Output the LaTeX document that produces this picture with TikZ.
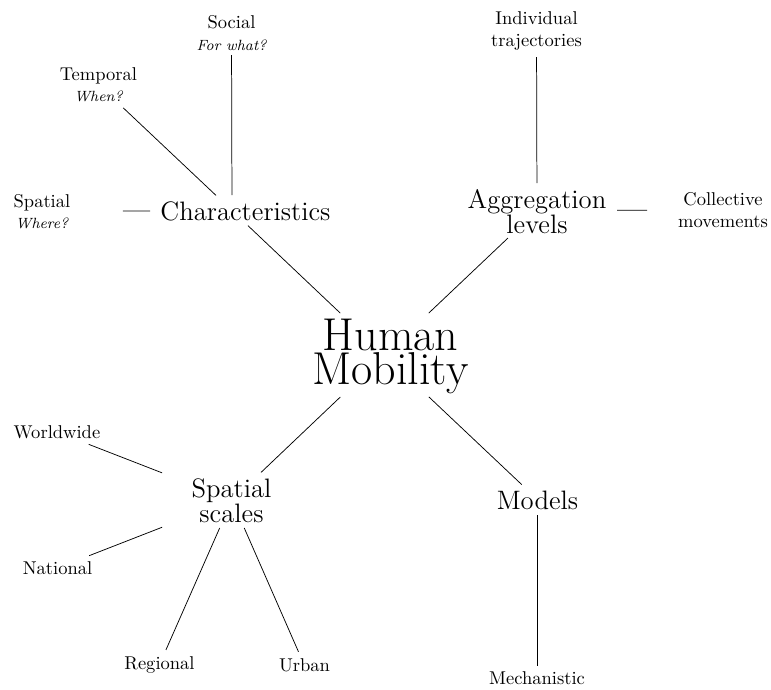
\documentclass[tikz,border=0pt]{standalone}
\usepackage{tikz}

\tikzset{
  % one drawing unit is 0.54pt, y grows downwards
  root/.style={align=center, inner sep=0pt,
    font={\Huge\setlength{\baselineskip}{18.6pt}\setlength{\lineskiplimit}{-100pt}}},
  branch/.style={align=center, inner sep=0pt,
    font={\Large\setlength{\baselineskip}{13.5pt}\setlength{\lineskiplimit}{-100pt}}},
  leaf/.style={align=center, inner sep=0pt,
    font={\normalsize\setlength{\baselineskip}{11.6pt}\setlength{\lineskiplimit}{-100pt}}},
  link/.style 2 args={line width=0.4pt, shorten <=#1*0.54pt, shorten >=#2*0.54pt},
}
\newcommand{\question}[1]{{\footnotesize\itshape #1}}

\begin{document}
\begin{tikzpicture}[x=0.54pt, y=-0.54pt]
  \useasboundingbox (0,0) rectangle (771,689);

  % branch points
  \coordinate (human-hub)  at (384.5,355);
  \coordinate (char-hub)   at (232,210.5);
  \coordinate (agg-hub)    at (537,210.5);
  \coordinate (scales-hub) at (232,500);
  \coordinate (models-hub) at (537,499);

  % central concept
  \node[root] (human) at (390.5,356.5) {Human\\Mobility};

  % main branches
  \node[branch] (char)   at (245.5,211.5) {Characteristics};
  \node[branch] (agg)    at (537,211.5)   {Aggregation\\levels};
  \node[branch] (scales) at (231.5,501)   {Spatial\\scales};
  \node[branch] (models) at (537.5,500.5) {Models};

  % characteristics
  \node[leaf] (social)   at (231.5,33)  {Social\\\question{For what?}};
  \node[leaf] (temporal) at (98.5,84.5) {Temporal\\\question{When?}};
  \node[leaf] (spatial)  at (42,211.5)  {Spatial\\\question{Where?}};

  % aggregation levels
  \node[leaf] (individual) at (536.5,31) {Individual\\trajectories};
  \node[leaf] (collective) at (723,210)  {Collective\\movements};

  % spatial scales
  \node[leaf] (worldwide) at (57,432)      {Worldwide};
  \node[leaf] (national)  at (57.5,568)    {National};
  \node[leaf] (regional)  at (159.5,664.5) {Regional};
  \node[leaf] (urban)     at (304.5,665.5) {Urban};

  % models
  \node[leaf] (mechanistic) at (537,678.5) {Mechanistic};

  % connectors from the centre
  \draw[link={61}{22}] (human-hub) -- (char-hub);
  \draw[link={61}{40}] (human-hub) -- (agg-hub);
  \draw[link={61}{40}] (human-hub) -- (scales-hub);
  \draw[link={61}{21}] (human-hub) -- (models-hub);

  % connectors of the branches
  \draw[link={15.5}{22}] (char-hub) -- (social.center);
  \draw[link={22}{34}]   (char-hub) -- (temporal.center);
  \draw[link={82}{81}]   (char-hub) -- (spatial.center);

  \draw[link={27.5}{26}] (agg-hub) -- (individual.center);
  \draw[link={80}{76}]   (agg-hub) -- (collective.center);

  \draw[link={75}{34}]   (scales-hub) -- (worldwide.center);
  \draw[link={75}{34}]   (scales-hub) -- (national.center);
  \draw[link={30.5}{16}] (scales-hub) -- (regional.center);
  \draw[link={30.5}{15}] (scales-hub) -- (urban.center);

  \draw[link={16}{12.5}] (models-hub) -- (mechanistic.center);
\end{tikzpicture}
\end{document}
